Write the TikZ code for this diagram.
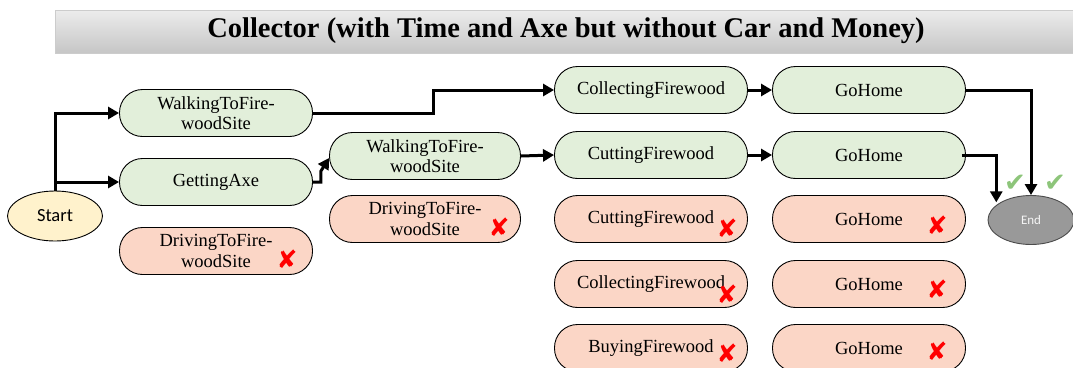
\documentclass[tikz,border=0pt]{standalone}
\usepackage{fontspec}
\setmainfont{Liberation Serif}
\newfontfamily\symf{DejaVu Sans}
\newfontfamily\calib{Carlito}
\usetikzlibrary{shapes.geometric,arrows.meta,calc}
\definecolor{gfill}{HTML}{E2EFDA}
\definecolor{rfill}{HTML}{FBD6C6}
\definecolor{yfill}{HTML}{FFF2CC}
\definecolor{efill}{HTML}{999999}
\definecolor{chk}{HTML}{8DC57A}
\definecolor{xred}{HTML}{FF0000}
\tikzset{
  box/.style={draw=black, line width=0.9pt, rounded corners=23pt, minimum width=193pt,
    minimum height=47pt, align=center, inner sep=0pt,
    font=\rmfamily\fontsize{18.5}{20.5}\selectfont},
  okbox/.style={box, fill=gfill},
  nobox/.style={box, fill=rfill},
  conn/.style={line width=3pt, -{Triangle[length=11pt,width=12pt]}},
  xmark/.style={text=xred, font=\symf\fontsize{25}{25}\selectfont, inner sep=0pt},
  cmark/.style={text=chk, font=\symf\fontsize{26}{26}\selectfont, inner sep=0pt}
}
\begin{document}
\begin{tikzpicture}[x=1pt,y=-1pt]
\useasboundingbox (0,0) rectangle (1073,367);
% title
\node[draw=gray!40, top color=gray!15, bottom color=gray!45, minimum width=1020pt,
  minimum height=43pt, inner sep=0pt, anchor=north west] (title) at (55,10) {};
\node[font=\bfseries\fontsize{28.5}{32}\selectfont] (ttext) at (566,31)
  {Collector (with Time and Axe but without Car and Money)};
% start / end
\node[ellipse, draw=black, line width=0.9pt, fill=yfill, minimum width=95pt, minimum height=50pt,
  inner sep=0pt, font=\calib\fontsize{18.5}{20}\selectfont] (start) at (55,216) {Start};
\node[ellipse, draw=black!70, line width=0.9pt, fill=efill, minimum width=86pt, minimum height=49pt,
  inner sep=0pt, text=white!92!gray, font=\calib\fontsize{13}{15}\selectfont] (end) at (1031,220) {End};
% column 1
\node[okbox] (walk1) at (216,113) {WalkingToFire-\\woodSite};
\node[okbox] (axe) at (216,182) {GettingAxe};
\node[nobox] (drive1) at (216,251) {DrivingToFire-\\woodSite};
% column 2
\node[okbox, minimum width=191pt] (walk2) at (425,156) {WalkingToFire-\\woodSite};
\node[nobox, minimum width=191pt] (drive2) at (425,219) {DrivingToFire-\\woodSite};
% column 3
\node[okbox] (coll) at (651,90) {CollectingFirewood};
\node[okbox] (cut) at (651,155) {CuttingFirewood};
\node[nobox] (cutr) at (651,219) {CuttingFirewood};
\node[nobox] (collr) at (651,284) {CollectingFirewood};
\node[nobox] (buy) at (651,348) {BuyingFirewood};
% column 4
\node[okbox] (gh1) at (869,90) {GoHome};
\node[okbox] (gh2) at (869,155) {GoHome};
\node[nobox] (gh3) at (869,219) {GoHome};
\node[nobox] (gh4) at (869,284) {GoHome};
\node[nobox] (gh5) at (869,348) {GoHome};
% crosses
\node[xmark] (x1) at (287,259) {✘};
\node[xmark] (x2) at (499,227) {✘};
\node[xmark] (x3) at (727,228) {✘};
\node[xmark] (x4) at (727,294) {✘};
\node[xmark] (x5) at (727,353) {✘};
\node[xmark] (x6) at (937,225) {✘};
\node[xmark] (x7) at (937,289) {✘};
\node[xmark] (x8) at (937,351) {✘};
% checks
\node[cmark] (c1) at (1015,183) {✔};
\node[cmark] (c2) at (1055,183) {✔};
% connectors
\draw[conn] (start.north) |- (walk1.west);
\draw[conn] (start.north) |- (axe.west);
\draw[conn] (axe.east) -- ++(8,0) -- ++(0,-11) -- ([yshift=-2pt]walk2.west);
\draw[conn] (walk1.east) -- ++(121,0) |- (coll.west);
\draw[conn] (walk2.east) -- (cut.west);
\draw[conn] (coll.east) -- (gh1.west);
\draw[conn] (cut.east) -- (gh2.west);
\draw[conn] (gh1.east) -| (end.north);
\draw[conn] ([xshift=-4pt]gh2.east) -| ([xshift=-4pt]end.north west);
\end{tikzpicture}
\end{document}
